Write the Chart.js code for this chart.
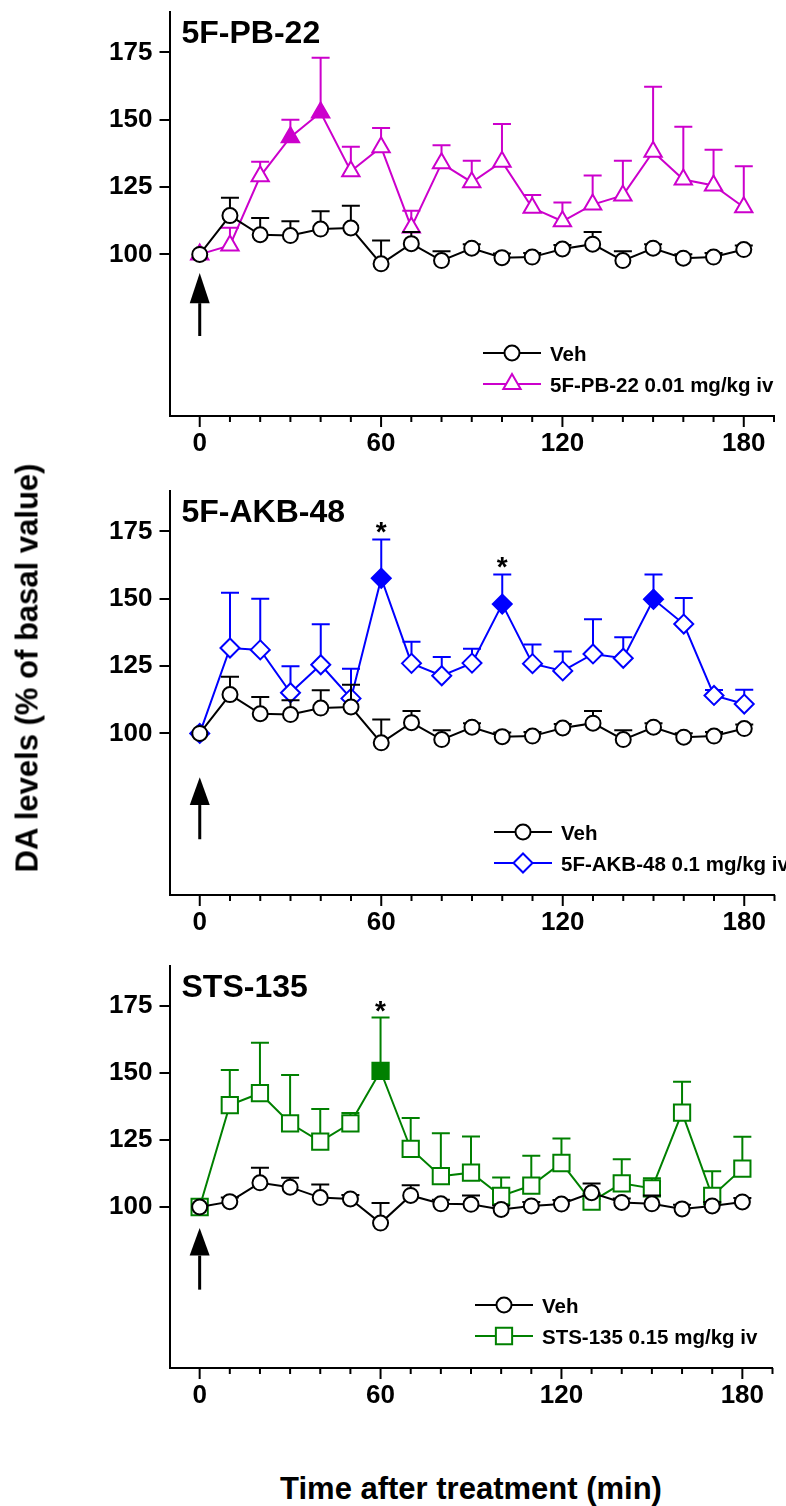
<!DOCTYPE html>
<html>
<head>
<meta charset="utf-8">
<title>DA levels after treatment</title>
<script src="https://cdn.jsdelivr.net/npm/chart.js@4.4.1/dist/chart.umd.min.js"></script>
<style>
  html, body { margin: 0; padding: 0; background: #fff; }
  #page { position: relative; width: 786px; height: 1506px; overflow: hidden;
          font-family: "Liberation Sans", Arial, sans-serif; color: #000; }
  .panel { position: absolute; left: 0; }
  .axis-title { position: absolute; font-weight: bold; font-size: 31px; line-height: 1; white-space: nowrap; }
  #yTitle { left: 27px; top: 668px; transform: translate(-50%, -50%) rotate(-90deg); }
  #xTitle { left: 471px; top: 1488px; transform: translate(-50%, -50%); }
</style>
</head>
<body>
<div id="page">
  <canvas id="panel1" class="panel" width="786" height="476" style="top:0px"></canvas>
  <canvas id="panel2" class="panel" width="786" height="476" style="top:479px"></canvas>
  <canvas id="panel3" class="panel" width="786" height="476" style="top:952px"></canvas>
  <div id="yTitle" class="axis-title">DA levels (% of basal value)</div>
  <div id="xTitle" class="axis-title">Time after treatment (min)</div>
</div>
<script>
const FONT = '"Liberation Sans", Arial, sans-serif';
Chart.defaults.font.family = FONT;
Chart.defaults.color = '#000';

// --- data ---
const times = [0, 10, 20, 30, 40, 50, 60, 70, 80, 90, 100, 110, 120, 130, 140, 150, 160, 170, 180];
const xLabelTicks = [0, 60, 120, 180];
const xMinorTicks = [0, 10, 20, 30, 40, 50, 60, 70, 80, 90, 100, 110, 120, 130, 140, 150, 160, 170, 180, 190];
const yTicks = [100, 125, 150, 175];

// vehicle group shown in the 5F-PB-22 and 5F-AKB-48 panels
const vehA    = [100, 114.4, 107.3, 107, 109.4, 109.8, 96.5, 104, 97.7, 102.3, 98.8, 99, 102, 103.8, 97.7, 102.3, 98.6, 99, 101.8];
const vehASem = [0, 6.6, 6.2, 5.3, 6.6, 8.3, 8.7, 4.3, 3.5, 1.5, 1.5, 1.5, 1.5, 4.5, 3.5, 1.5, 1.5, 1.5, 1.5];

const pb22    = [100, 103.3, 129, 143.5, 152.7, 130.9, 139.8, 110, 133.8, 126.8, 134.4, 117.3, 112.3, 118.5, 121.9, 138.1, 127.8, 125.6, 117.5];
const pb22Sem = [0, 6.6, 5.4, 6.5, 20.3, 9.1, 7.1, 6.2, 6.7, 8, 14, 4.8, 7, 10.8, 12.9, 24.1, 19.6, 13.3, 15.2];
const pb22Sig = [30, 40];
const pb22Star = [];

const akb48    = [100, 131.7, 131, 115.1, 125.5, 113, 157.6, 126, 121.4, 126.1, 148, 125.9, 123.2, 129.5, 127.9, 149.8, 140.6, 114.1, 110.9];
const akb48Sem = [0, 20.5, 19, 9.8, 15, 11, 14.4, 8, 7, 5.3, 11, 7.1, 7.2, 12.9, 7.8, 9.2, 9.7, 2, 5.3];
const akb48Sig = [60, 100, 150];
const akb48Star = [60, 100];

// vehicle group shown in the STS-135 panel
const vehB    = [100, 102, 109, 107.4, 103.5, 103, 94, 104.3, 101.2, 101, 99.1, 100.4, 101.1, 105.3, 101.7, 101.2, 99.3, 100.4, 101.9];
const vehBSem = [0, 1.5, 5.6, 3.5, 4.9, 1.5, 7.5, 3.8, 1.5, 3.3, 1.5, 1.5, 1.5, 3.5, 1.5, 3.1, 1.5, 1.5, 1.5];

const sts135    = [100, 138, 142.4, 131.2, 124.4, 131.2, 150.7, 121.7, 111.5, 112.8, 104.1, 108, 116.4, 102, 108.8, 106.9, 135.2, 104.1, 114.3];
const sts135Sem = [0, 13.1, 18.8, 18, 12.1, 3.8, 19.9, 11.5, 16, 13.5, 6.9, 11.1, 9.1, 1, 9, 3.8, 11.5, 9.2, 11.9];
const sts135Sig = [60];
const sts135Star = [60];

// --- helpers ---
function series(label, values, sem, sig, color, style, radius) {
  return {
    label: label,
    sem: sem,
    data: times.map((t, i) => ({ x: t, y: values[i] })),
    borderColor: color,
    borderWidth: 2,
    pointStyle: style,
    pointRadius: radius,
    pointHoverRadius: radius,
    pointBorderColor: color,
    pointBorderWidth: 2,
    pointBackgroundColor: times.map(t => sig.includes(t) ? color : '#fff'),
    tension: 0,
    fill: false
  };
}

// error bars (drawn under each series), x ticks, arrow, stars, title, legend
const decor = {
  id: 'decor',
  beforeDatasetDraw(chart, args) {
    const ds = chart.data.datasets[args.index];
    const x = chart.scales.x, y = chart.scales.y, ctx = chart.ctx;
    ctx.save();
    ctx.strokeStyle = ds.borderColor;
    ctx.lineWidth = 2;
    ds.data.forEach((p, i) => {
      if (!ds.sem[i]) return;
      const px = x.getPixelForValue(p.x);
      const p0 = y.getPixelForValue(p.y), p1 = y.getPixelForValue(p.y + ds.sem[i]);
      ctx.beginPath();
      ctx.moveTo(px, p0); ctx.lineTo(px, p1);
      ctx.moveTo(px - 9, p1); ctx.lineTo(px + 9, p1);
      ctx.stroke();
    });
    ctx.restore();
  },
  afterDraw(chart, args, o) {
    const ctx = chart.ctx, a = chart.chartArea, x = chart.scales.x, y = chart.scales.y;
    ctx.save();
    // x ticks: long at labelled values, short in between
    ctx.strokeStyle = '#000';
    ctx.lineWidth = 2;
    xMinorTicks.forEach(t => {
      const px = x.getPixelForValue(t);
      const len = xLabelTicks.includes(t) ? 11 : 6;
      ctx.beginPath(); ctx.moveTo(px, a.bottom); ctx.lineTo(px, a.bottom + len); ctx.stroke();
    });
    // injection arrow at t = 0
    const ax = x.getPixelForValue(0);
    const tip = y.getPixelForValue(o.arrow[0]);
    const base = y.getPixelForValue(o.arrow[1]);
    const tail = y.getPixelForValue(o.arrow[2]);
    ctx.fillStyle = '#000';
    ctx.lineWidth = 3;
    ctx.beginPath(); ctx.moveTo(ax, base); ctx.lineTo(ax, tail); ctx.stroke();
    ctx.beginPath(); ctx.moveTo(ax, tip); ctx.lineTo(ax - 10, base); ctx.lineTo(ax + 10, base); ctx.closePath(); ctx.fill();
    // significance stars above the error caps
    const drug = chart.data.datasets[1];
    ctx.font = 'bold 28px ' + FONT;
    ctx.textAlign = 'center';
    ctx.textBaseline = 'alphabetic';
    o.stars.forEach(t => {
      const i = times.indexOf(t);
      const py = y.getPixelForValue(drug.data[i].y + drug.sem[i]);
      ctx.fillText('*', x.getPixelForValue(t), py + 2);
    });
    // panel title
    ctx.font = 'bold 32px ' + FONT;
    ctx.textAlign = 'left';
    ctx.fillText(o.title, a.left + 12, a.top + 31);
    // legend
    chart.data.datasets.forEach((ds, k) => {
      const ly = 353 + k * 31, lx = o.legendX;
      ctx.strokeStyle = ds.borderColor;
      ctx.lineWidth = 2;
      ctx.beginPath(); ctx.moveTo(lx, ly); ctx.lineTo(lx + 58, ly); ctx.stroke();
      ctx.fillStyle = '#fff';
      Chart.helpers.drawPoint(ctx, { pointStyle: ds.pointStyle, radius: ds.pointRadius, borderWidth: 2, rotation: 0 }, lx + 29, ly);
      ctx.fillStyle = '#000';
      ctx.font = 'bold 20.5px ' + FONT;
      ctx.fillText(ds.label, lx + 67, ly + 7.5);
    });
    ctx.restore();
  }
};

function makePanel(id, veh, vehSem, drug, title, legendX, arrow, stars) {
  new Chart(document.getElementById(id), {
    type: 'line',
    data: {
      datasets: [
        series('Veh', veh, vehSem, [], '#000', 'circle', 7.5),
        drug
      ]
    },
    options: {
      responsive: false,
      animation: false,
      events: [],
      layout: { padding: { top: 12, right: 6.3, left: 0, bottom: 0 } },
      plugins: {
        legend: { display: false },
        tooltip: { enabled: false },
        decor: { title: title, legendX: legendX, arrow: arrow, stars: stars }
      },
      scales: {
        x: {
          type: 'linear', min: -10, max: 190,
          afterBuildTicks: s => { s.ticks = xLabelTicks.map(v => ({ value: v })); },
          afterFit: s => { s.height = 60; s.paddingLeft = 0; s.paddingRight = 0; },
          border: { display: true, color: '#000', width: 2 },
          grid: { display: false, drawTicks: false },
          ticks: { color: '#000', font: { size: 26, weight: 'bold' }, padding: 12, maxRotation: 0, autoSkip: false }
        },
        y: {
          type: 'linear', min: 40, max: 190,
          afterBuildTicks: s => { s.ticks = yTicks.map(v => ({ value: v })); },
          afterFit: s => { s.width = 169.5; s.paddingTop = 0; s.paddingBottom = 0; },
          border: { display: true, color: '#000', width: 2 },
          grid: { display: true, drawOnChartArea: false, drawTicks: true, tickLength: 10, color: '#000', lineWidth: 2 },
          ticks: { color: '#000', font: { size: 26, weight: 'bold' }, padding: 7 }
        }
      }
    },
    plugins: [decor]
  });
}

makePanel('panel1', vehA, vehASem,
  series('5F-PB-22 0.01 mg/kg iv', pb22, pb22Sem, pb22Sig, '#cc00cc', 'triangle', 10),
  '5F-PB-22', 483, [93.1, 81.9, 69.7], pb22Star);

makePanel('panel2', vehA, vehASem,
  series('5F-AKB-48 0.1 mg/kg iv', akb48, akb48Sem, akb48Sig, '#0000ff', 'rectRot', 9.5),
  '5F-AKB-48', 494, [83.7, 73.4, 60.7], akb48Star);

makePanel('panel3', vehB, vehBSem,
  series('STS-135 0.15 mg/kg iv', sts135, sts135Sem, sts135Sig, '#008000', 'rect', 11.5),
  'STS-135', 475, [92.2, 81.9, 69.2], sts135Star);
</script>
</body>
</html>
